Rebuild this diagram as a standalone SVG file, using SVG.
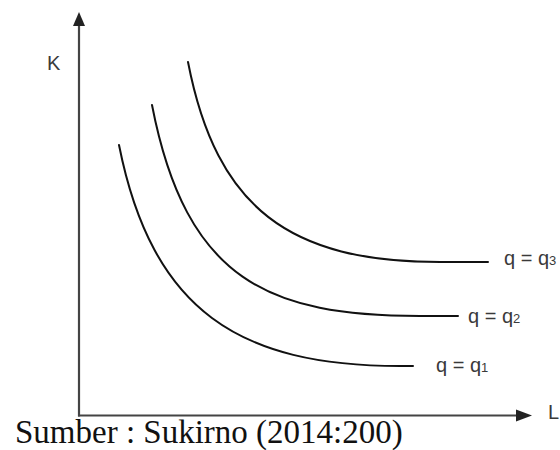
<svg xmlns="http://www.w3.org/2000/svg" width="560" height="450" viewBox="0 0 560 450">
<style>
.axis{stroke:#444;stroke-width:2.2;fill:none}
.head{fill:#222}
.curve{stroke:#111;stroke-width:2;fill:none;stroke-linecap:round}
.lbl{font-family:"Liberation Sans",Arial,sans-serif;font-size:20px;fill:#3a3a3a}
.sub{font-size:13px}
.src{font-family:"Liberation Serif","Times New Roman",serif;font-size:33px;fill:#111}
</style>
<rect width="560" height="450" fill="#fff"/>
<g id="axes">
<line class="axis" x1="79" y1="22" x2="79" y2="416.5"/>
<line class="axis" x1="78" y1="415.5" x2="520" y2="415.5"/>
<polygon class="head" points="79,12 73,26 85,26"/>
<polygon class="head" points="532,415.5 516,409.5 516,421.5"/>
<text class="lbl" x="47" y="70">K</text>
<text class="lbl" x="548" y="419">L</text>
</g>
<g id="curves">
<path id="q3" class="curve" d="M188,62 C216.5,209 290,262 440,262 L488,262"/>
<path id="q2" class="curve" d="M152,105 C186.2,281.4 270,316 420,316 L458,316"/>
<path id="q1" class="curve" d="M119,145 C152.2,311.6 240,366 400,366 L413,366"/>
</g>
<g id="labels">
<text class="lbl" x="504" y="265">q = q<tspan class="sub">3</tspan></text>
<text class="lbl" x="468" y="323">q = q<tspan class="sub">2</tspan></text>
<text class="lbl" x="436" y="372">q = q<tspan class="sub">1</tspan></text>
</g>
<text class="src" x="15" y="443">Sumber : Sukirno (2014:200)</text>
</svg>
